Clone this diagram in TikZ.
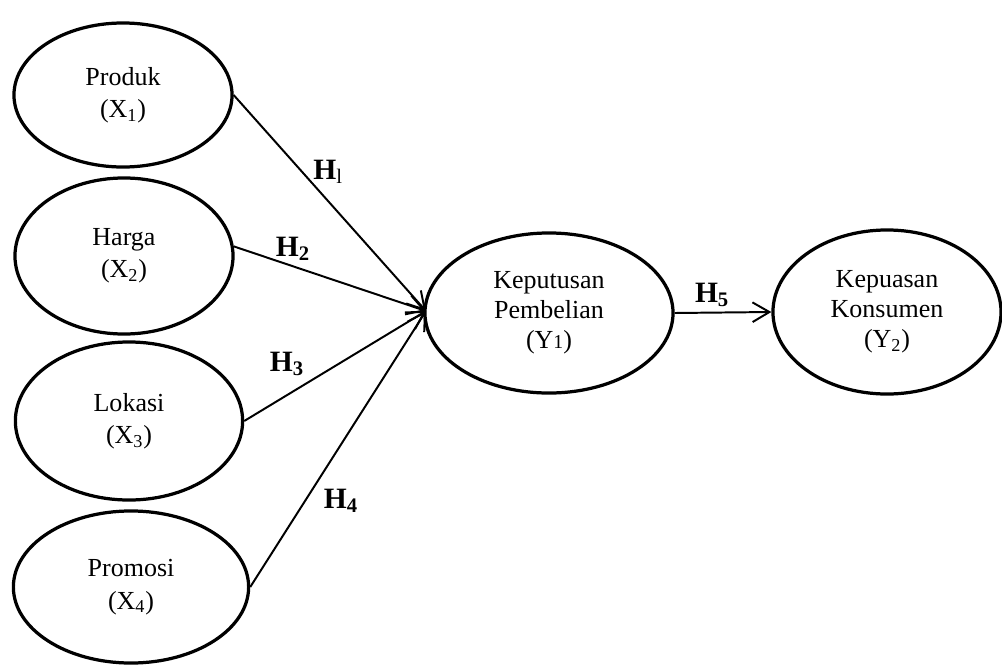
\documentclass[tikz,border=0pt]{standalone}
\usepackage{amsmath}
\usepackage{fontspec}
\setmainfont{Liberation Serif}
\usetikzlibrary{shapes.geometric}
\usetikzlibrary{arrows.meta}

\begin{document}
\begin{tikzpicture}[x=0.025cm,y=-0.025cm,>={Straight Barb[length=12pt,width=14pt,line width=1.4pt]},
	                    var node/.style={ellipse,draw,line width=2.3pt,inner sep=0pt,align=center,
	                    font=\fontsize{18.5}{21.5}\selectfont},
	                    x node/.style={var node,font=\fontsize{18.5}{23}\selectfont},
	                    hyp/.style={font=\fontsize{21}{23}\selectfont},
	                    path/.style={->,line width=1.4pt}]
		\useasboundingbox (0,0) rectangle (1002,665);
		% Nodes
		  % left column
		  \node (prod) at (123, 95) [x node,minimum width=5.45cm,minimum height=3.6cm] {Produk\\(X\textsubscript{1})};
		  \node (harga) at (124, 256) [x node,minimum width=5.45cm,minimum height=3.9cm] {Harga\\(X\textsubscript{2})};
		  \node (lokasi) at (129, 421) [x node,minimum width=5.68cm,minimum height=3.95cm] {Lokasi\\(X\textsubscript{3})};
		  \node (promosi) at (131, 587) [x node,minimum width=5.88cm,minimum height=3.8cm] {Promosi\\(X\textsubscript{4})};
		  
		  % right side
		  \node (kep) at (549, 313) [var node,minimum width=6.2cm,minimum height=4.0cm] {Keputusan\\Pembelian\\(Y{\fontsize{14}{14}\selectfont 1})};
		  \node (puas) at (887, 312) [var node,minimum width=5.7cm,minimum height=4.1cm] {Kepuasan\\Konsumen\\(Y\textsubscript{2})};
		  
		  \coordinate (conv) at (426, 311);
		
		% Edges
		  \draw[path] (prod.east) -- (conv);
		  \draw[path] (harga.5) -- (conv);
		  \draw[path] (lokasi.east) -- (conv);
		  \draw[path] (promosi.east) -- (conv);
		  \draw[path] (kep.east) -- (puas.west);
		  
		% Labels
		  \node (h1) at (328, 172) [hyp] {$\mathbf{H}_{\mathrm{l}}$};
		  \node (h2) at (293, 249) [hyp] {$\mathbf{H}_{\mathbf{2}}$};
		  \node (h3) at (287, 364) [hyp] {$\mathbf{H}_{\mathbf{3}}$};
		  \node (h4) at (341, 501) [hyp] {$\mathbf{H}_{\mathbf{4}}$};
		  \node (h5) at (712, 295) [hyp] {$\mathbf{H}_{\mathbf{5}}$};
		  
		\end{tikzpicture}
\end{document}
